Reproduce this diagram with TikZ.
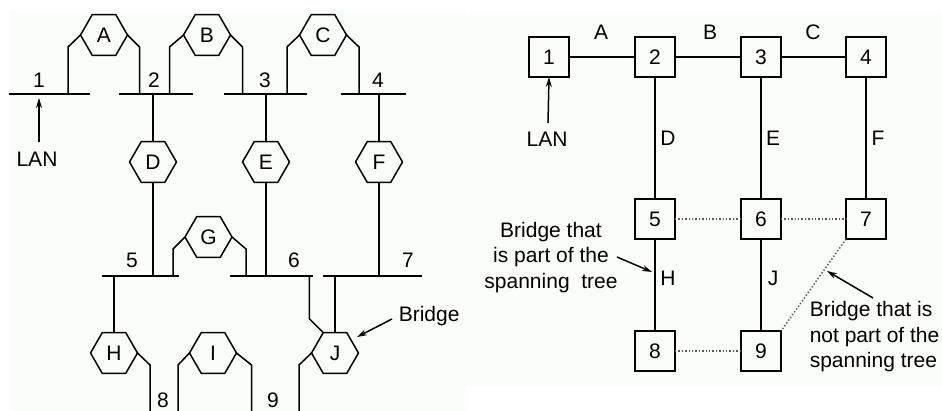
\documentclass[tikz,border=0pt]{standalone}
\usepackage{fontspec}
\setmainfont{Liberation Sans}
\usetikzlibrary{arrows.meta,shapes.geometric}
\definecolor{bgc}{RGB}{249,254,248}
\begin{document}
\begin{tikzpicture}[x=1pt,y=-1pt, line width=1.5pt,
  font=\fontsize{21}{25.5}\selectfont,
  hexbr/.style={draw, regular polygon, regular polygon sides=6, minimum size=47pt, inner sep=0pt, outer sep=0pt},
  bbox/.style={draw, minimum size=40pt, inner sep=0pt, outer sep=0pt},
  lbl/.style={inner sep=0pt},
  ntree/.style={draw, black!65, dash pattern=on 1.4pt off 2pt},
  ptr/.style={-{Stealth[length=10pt,width=6pt]}, line width=1.5pt},
]
\useasboundingbox (0,0) rectangle (942,411);
\fill[bgc] (9,10) rectangle (465,411);
\fill[bgc] (465,15) rectangle (942,386);

% ---------- left panel: LAN segments ----------
\coordinate (l1a) at (9,94);   \coordinate (l1b) at (90,94);
\coordinate (l2a) at (119,94); \coordinate (l2b) at (193,94);
\coordinate (l3a) at (224,94); \coordinate (l3b) at (307,94);
\coordinate (l4a) at (341,94); \coordinate (l4b) at (406,94);
\coordinate (l5a) at (102,276); \coordinate (l5b) at (179,276);
\coordinate (l6a) at (230,276); \coordinate (l6b) at (313,276);
\coordinate (l7a) at (323,276); \coordinate (l7b) at (422,276);
\coordinate (bot) at (0,411);
\draw (l1a) -- (l1b);
\draw (l2a) -- (l2b);
\draw (l3a) -- (l3b);
\draw (l4a) -- (l4b);
\draw (l5a) -- (l5b);
\draw (l6a) -- (l6b);
\draw (l7a) -- (l7b);

\node[lbl] (t1) at (39,80) {1};
\node[lbl] (t2) at (154,80) {2};
\node[lbl] (t3) at (265,80) {3};
\node[lbl] (t4) at (378,80) {4};
\node[lbl] (t5) at (132,260) {5};
\node[lbl] (t6) at (294,260) {6};
\node[lbl] (t7) at (408,260) {7};
\node[lbl] (t8) at (163,400) {8};
\node[lbl] (t9) at (273,400) {9};

% bridges
\node[hexbr] (A) at (104,35) {A};
\node[hexbr] (B) at (207,35) {B};
\node[hexbr] (C) at (323,35) {C};
\node[hexbr] (D) at (153,162) {D};
\node[hexbr] (E) at (266,162) {E};
\node[hexbr] (F) at (379,162) {F};
\node[hexbr] (G) at (208.5,237) {G};
\node[hexbr] (H) at (114,353) {H};
\node[hexbr] (I) at (213,353) {I};
\node[hexbr] (J) at (335,353) {J};

% top bridges
\draw (A.180) -- ++(-12.5,12) coordinate (ak1) -- (ak1 |- l1a);
\draw (A.0)   -- ++(12,12)    coordinate (ak2) -- (ak2 |- l2a);
\draw (B.180) -- ++(-14,12)   coordinate (bk1) -- (bk1 |- l2a);
\draw (B.0)   -- ++(12,12)    coordinate (bk2) -- (bk2 |- l3a);
\draw (C.180) -- ++(-12.5,12) coordinate (ck1) -- (ck1 |- l3a);
\draw (C.0)   -- ++(12.5,12)  coordinate (ck2) -- (ck2 |- l4a);
% vertical bridges
\draw (D.90 |- l2a) -- (D.90);
\draw (D.270) -- (D.270 |- l5a);
\draw (E.90 |- l3a) -- (E.90);
\draw (E.270) -- (E.270 |- l6a);
\draw (F.90 |- l4a) -- (F.90);
\draw (F.270) -- (F.270 |- l7a);
% G
\draw (G.180) -- ++(-12,12) coordinate (gk1) -- (gk1 |- l5a);
\draw (G.0)   -- ++(14,12)  coordinate (gk2) -- (gk2 |- l6a);
% H
\draw (H.90 |- l5a) -- (H.90);
\draw (H.0) -- ++(12.5,12) coordinate (hk) -- (hk |- bot);
% I
\draw (I.180) -- ++(-11.5,12) coordinate (ik1) -- (ik1 |- bot);
\draw (I.0)   -- ++(15,12)    coordinate (ik2) -- (ik2 |- bot);
% J
\draw (J.90 |- l7a) -- (J.90);
\draw (J.120) -- ++(-14,-14) coordinate (jk1) -- (jk1 |- l6a);
\draw (J.180) -- ++(-12.5,12) coordinate (jk2) -- (jk2 |- bot);

% LAN arrow
\node[lbl] (lanL) at (37,159) {LAN};
\coordinate (lanLtip) at (39,98);
\draw[ptr] (39,142) -- (lanLtip);
% Bridge pointer
\node[lbl, anchor=west] (brL) at (398,316) {Bridge};
\coordinate (brTip) at (357,337);
\draw[ptr] (392,319) -- (brTip);

% ---------- right panel ----------
\node[bbox] (n1) at (549,57) {1};
\node[bbox] (n2) at (655,57) {2};
\node[bbox] (n3) at (761,57) {3};
\node[bbox] (n4) at (866,57) {4};
\node[bbox] (n5) at (655,219) {5};
\node[bbox] (n6) at (761,219) {6};
\node[bbox] (n7) at (866,219) {7};
\node[bbox] (n8) at (655,351) {8};
\node[bbox] (n9) at (761,351) {9};

\draw (n1) -- (n2);
\draw (n2) -- (n3);
\draw (n3) -- (n4);
\draw (n2) -- (n5);
\draw (n3) -- (n6);
\draw (n4) -- (n7);
\draw (n5) -- (n8);
\draw (n6) -- (n9);
\draw[ntree] (n5) -- (n6);
\draw[ntree] (n6) -- (n7);
\draw[ntree] (n8) -- (n9);
\draw[ntree] (n7.south west) -- (n9.north east);

\node[lbl] (eA) at (601,32) {A};
\node[lbl] (eB) at (710,32) {B};
\node[lbl] (eC) at (813,32) {C};
\node[lbl] (eD) at (668,138) {D};
\node[lbl] (eE) at (773,138) {E};
\node[lbl] (eF) at (878,138) {F};
\node[lbl] (eH) at (668,278) {H};
\node[lbl] (eJ) at (773,278) {J};

\node[lbl] (lanR) at (547,139) {LAN};
\draw[ptr] (548,123) -- (n1.south);

\node[lbl, align=center] (partT) at (551,257.5) {Bridge that\\is part of the\\spanning\ \ tree};
\coordinate (partTip) at (652,272);
\draw[ptr] (617,257) -- (partTip);

\node[lbl, align=left, anchor=west] (notT) at (809,337) {Bridge that is\\not part of the\\spanning tree};
\coordinate (notTip) at (827,271);
\draw[ptr] (873,298) -- (notTip);
\end{tikzpicture}
\end{document}
